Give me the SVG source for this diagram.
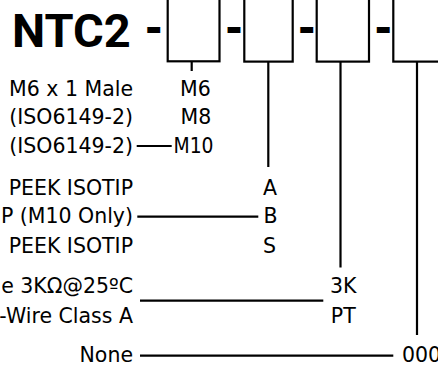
<svg xmlns="http://www.w3.org/2000/svg" width="438" height="368" viewBox="0 0 438 368">
<style>
.t{font-family:"DejaVu Sans",Verdana,sans-serif;font-size:20.5px;fill:#000}
.l{text-anchor:end}
.c{text-anchor:middle}
.title{font-family:Roboto,"DejaVu Sans",sans-serif;font-weight:bold;font-size:47px;fill:#000}
.dash{font-family:"DejaVu Sans",sans-serif;font-weight:bold;font-size:42px;fill:#000;text-anchor:middle}
.box{fill:#fff;stroke:#000;stroke-width:2.2}
.ln{stroke:#000;stroke-width:2.2;fill:none}
</style>
<rect width="438" height="368" fill="#fff"/>
<g id="title">
<text class="title" x="12" y="47">NTC2</text>
<text class="dash" x="153.7" y="42">-</text>
<text class="dash" x="233.9" y="42">-</text>
<text class="dash" x="306.7" y="42">-</text>
<text class="dash" x="383.2" y="42">-</text>
</g>
<g id="box1"><rect class="box" x="167.7" y="-10" width="51.8" height="71.3"/></g>
<g id="box2"><rect class="box" x="244.3" y="-10" width="48.4" height="71.6"/></g>
<g id="box3"><rect class="box" x="316.7" y="-10" width="52.3" height="71.6"/></g>
<g id="box4"><rect class="box" x="393.3" y="-10" width="60" height="71.6"/></g>
<g id="connectors">
<path class="ln" d="M191.7 61.3V71"/>
<path class="ln" d="M268.3 61.6V167"/>
<path class="ln" d="M340.5 61.6V267.5"/>
<path class="ln" d="M417 61.6V335"/>
<path class="ln" d="M136.7 146H171.7"/>
<path class="ln" d="M137.3 216.7H258.3"/>
<path class="ln" d="M140 300.7H323.3"/>
<path class="ln" d="M140 355.7H393.3"/>
</g>
<g id="labels">
<text class="t l" x="133" y="96">M6 x 1 Male</text>
<text class="t l" x="133" y="124">(ISO6149-2)</text>
<text class="t l" x="133" y="153">(ISO6149-2)</text>
<text class="t l" x="133" y="195">PEEK ISOTIP</text>
<text class="t l" x="133" y="223">P (M10 Only)</text>
<text class="t l" x="133" y="253">PEEK ISOTIP</text>
<text class="t l" x="133" y="293">e 3KΩ@25ºC</text>
<text class="t l" x="133" y="323">-Wire Class A</text>
<text class="t l" x="133" y="362">None</text>
</g>
<g id="codes">
<text class="t c" x="195.4" y="96">M6</text>
<text class="t c" x="195.9" y="124">M8</text>
<text class="t" x="173.5" y="153" textLength="40" lengthAdjust="spacingAndGlyphs">M10</text>
<text class="t c" x="270" y="195">A</text>
<text class="t c" x="270.5" y="223">B</text>
<text class="t c" x="269.5" y="253">S</text>
<text class="t c" x="343.3" y="293">3K</text>
<text class="t c" x="343.3" y="323">PT</text>
<text class="t" x="402" y="362">000</text>
</g>
</svg>
